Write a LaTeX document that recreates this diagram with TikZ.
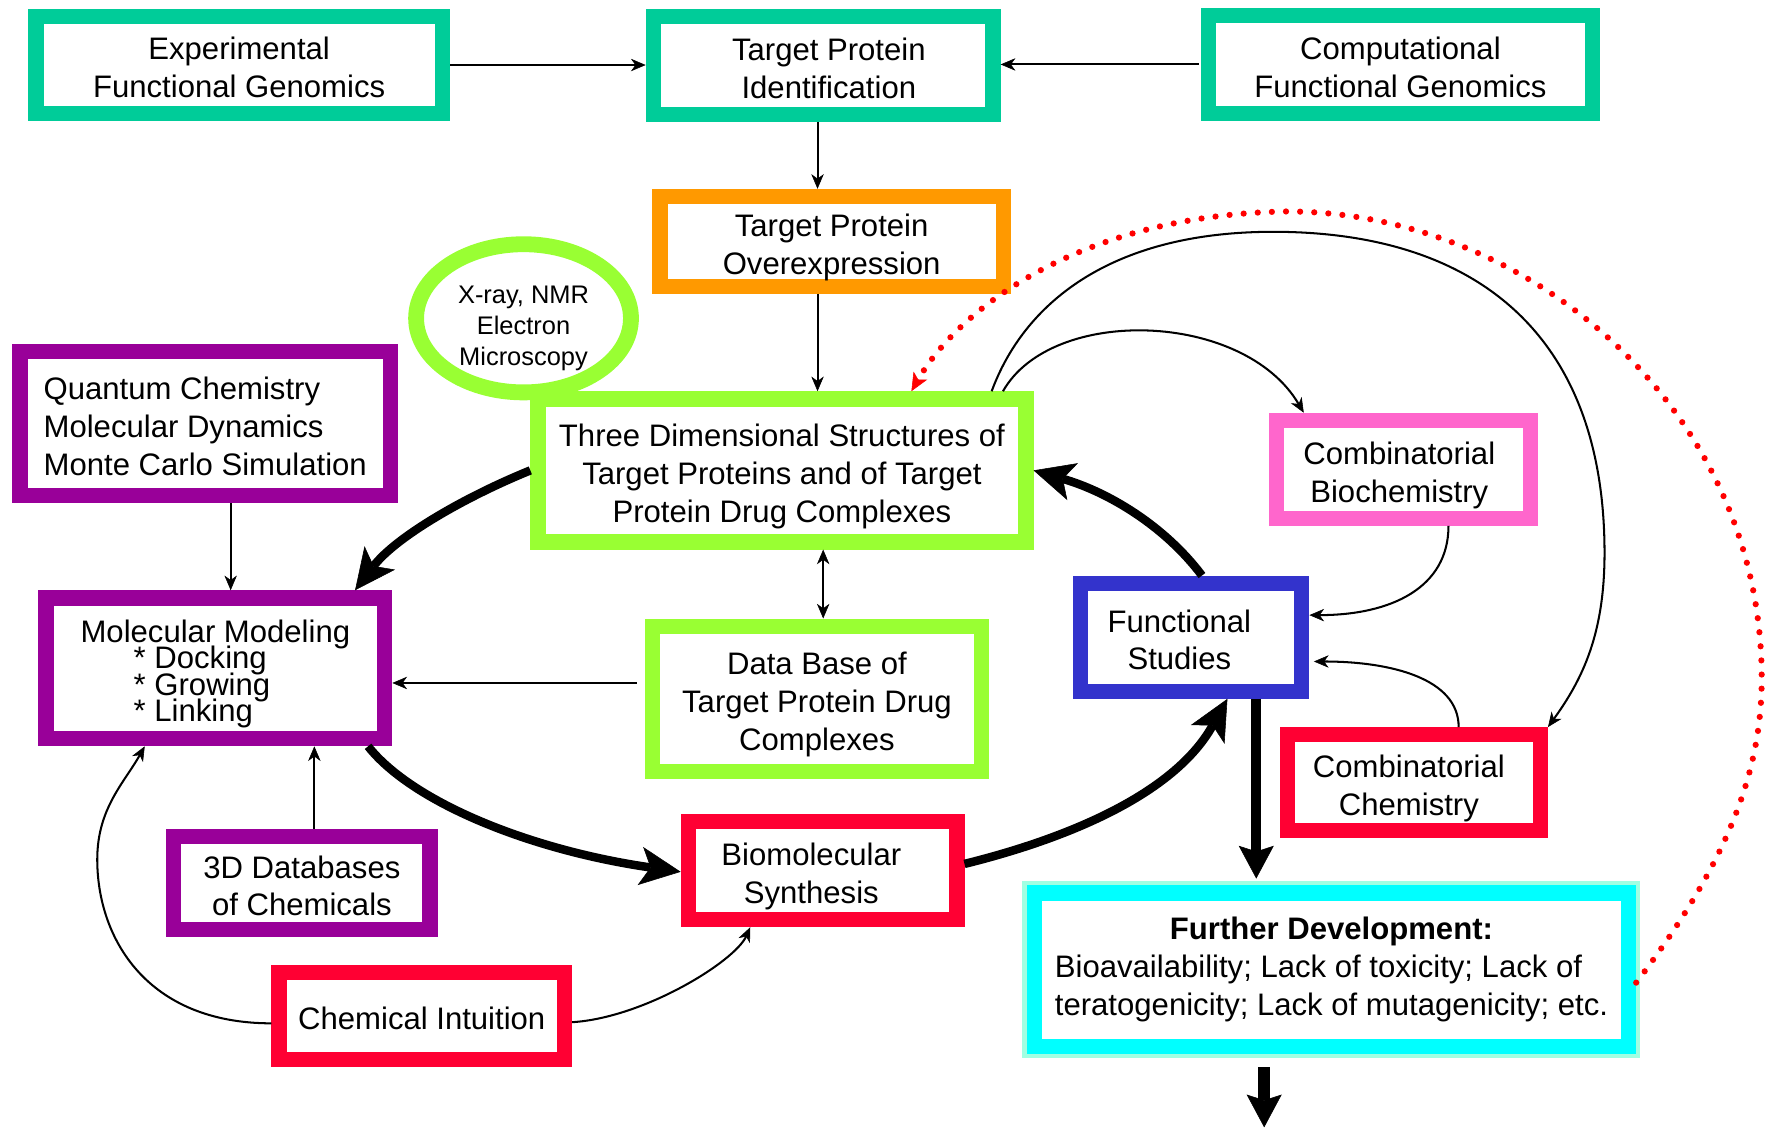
\documentclass[tikz,border=0pt]{standalone}
\usepackage{fontspec}
\setmainfont{Liberation Sans}
\usetikzlibrary{arrows.meta,shapes.geometric}
\definecolor{cteal}{RGB}{0,204,153}
\definecolor{corange}{RGB}{255,153,0}
\definecolor{clime}{RGB}{153,255,51}
\definecolor{cpurple}{RGB}{153,0,153}
\definecolor{cpink}{RGB}{255,102,204}
\definecolor{cblue}{RGB}{51,51,204}
\definecolor{cred}{RGB}{255,0,51}
\definecolor{ccyan}{RGB}{0,255,255}
\definecolor{cglow}{RGB}{160,255,226}
\definecolor{cdot}{RGB}{255,0,0}
\newcommand{\tsA}{\rule{0pt}{31pt}}
\newcommand{\tsB}{\rule[-6.5pt]{0pt}{0pt}}
\begin{document}
\begin{tikzpicture}[x=1pt,y=-1pt,
 box/.style={draw, rectangle, line width=13.5pt, fill=white, inner sep=0pt, outer sep=6.75pt, align=center, font=\fontsize{27.5}{33.5}\selectfont},
 thinarrow/.style={line width=1.8pt, >={Stealth[length=13pt,width=11pt,inset=4pt,line width=0.5pt]}, ->},
 thickarrow/.style={line width=7.5pt, >={Stealth[length=36pt,width=34pt,inset=9pt,line width=0.5pt]}, ->},
 straightthick/.style={line width=9pt, >={Stealth[length=29pt,width=31pt,inset=5pt,line width=0.5pt]}, ->},
 reddots/.style={draw=cdot, line width=5.5pt, line cap=round, dash pattern=on 0pt off 12.5pt, >={Stealth[length=16pt,width=14pt,inset=4pt,line width=0.5pt]}, ->},
]
\useasboundingbox (0,0) rectangle (1568,998);

% ---- boxes ----
\node[box, draw=cteal, minimum width=359.5pt, minimum height=85.5pt] (ExpFG) at (211.5,57.5) {\tsA Experimental\\Functional Genomics\tsB};
\node[box, draw=cteal, minimum width=300.5pt, minimum height=86.5pt] (TPI) at (728,58) {\tsA\hspace*{10pt}Target Protein\\\hspace*{10pt}Identification\tsB};
\node[box, draw=cteal, minimum width=339.5pt, minimum height=86.5pt] (CompFG) at (1238.5,57) {\tsA Computational\\Functional Genomics\tsB};
\node[box, draw=corange, minimum width=303.5pt, minimum height=79.5pt] (TPO) at (735.5,213.5) {\tsA Target Protein\\Overexpression\tsB};
\node[draw=clime, line width=14pt, ellipse, fill=white, minimum width=190pt, minimum height=131pt, inner sep=0pt, outer sep=7pt, align=center, font=\fontsize{22.5}{27.5}\selectfont] (XR) at (463,281.5) {\rule{0pt}{33pt}X-ray, NMR\\Electron\\Microscopy};
\node[box, draw=clime, minimum width=431.5pt, minimum height=126.5pt] (ThreeD) at (691.5,416) {\tsA Three Dimensional Structures of\\Target Proteins and of Target\\Protein Drug Complexes\tsB};
\node[box, draw=cpurple, align=left, minimum width=327.5pt, minimum height=127.5pt] (QC) at (181.5,374.5) {\tsA Quantum Chemistry\\Molecular Dynamics\\Monte Carlo Simulation\tsB};
\node[box, draw=cpurple, align=left, minimum width=299.5pt, minimum height=124.5pt] (MM) at (190.5,591) {\tsA Molecular Modeling\\[-10pt]\hspace*{47pt}* Docking\\[-10pt]\hspace*{47pt}* Growing\\[-10pt]\hspace*{47pt}* Linking\tsB};
\node[box, draw=clime, minimum width=291.5pt, minimum height=128.5pt] (DB) at (722.5,618) {\tsA Data Base of\\Target Protein Drug\\Complexes\tsB};
\node[box, draw=cpink, minimum width=224.5pt, minimum height=86.5pt] (CB) at (1241,415) {\tsA Combinatorial\hspace*{7pt}\\Biochemistry\hspace*{7pt}\tsB};
\node[box, draw=cblue, minimum width=195.5pt, minimum height=95.5pt] (FS) at (1053.5,563.5) {\tsA Functional\hspace*{21pt}\\Studies\hspace*{21pt}\tsB};
\node[box, draw=cred, minimum width=223.5pt, minimum height=84.5pt] (CC) at (1250.5,692) {\tsA Combinatorial\hspace*{9pt}\\Chemistry\hspace*{9pt}\tsB};
\node[box, draw=cred, minimum width=237.5pt, minimum height=86.5pt] (BS) at (727.5,770) {\tsA Biomolecular\hspace*{20pt}\\Synthesis\hspace*{20pt}\tsB};
\node[box, draw=cpurple, minimum width=226.5pt, minimum height=82.5pt] (DDB) at (267,781) {\tsA 3D Databases\\of Chemicals\tsB};
\node[box, draw=cred, minimum width=252.5pt, minimum height=77.5pt] (CI) at (373,898.5) {\tsA Chemical Intuition\tsB};
\node[box, draw=ccyan, preaction={draw=cglow, line width=21pt}, minimum width=525.5pt, minimum height=135.5pt] (FD) at (1177.5,857.5) {\begin{tabular}{@{}l@{}}\multicolumn{1}{@{}c@{}}{\bfseries Further Development:}\\Bioavailability; Lack of toxicity; Lack of\\teratogenicity; Lack of mutagenicity; etc.\end{tabular}};

% ---- thin straight connectors ----
\draw[thinarrow] (ExpFG.east) -- (ExpFG.east -| TPI.west);
\draw[thinarrow] ([xshift=-2pt]CompFG.west) -- (CompFG.west -| TPI.east);
\draw[thinarrow] ([xshift=-5pt]TPI.south) -- ([xshift=-5pt]TPI.south |- TPO.north);
\draw[thinarrow] ([xshift=-12.5pt]TPO.south) -- ([xshift=-12.5pt]TPO.south |- ThreeD.north);
\draw[thinarrow, <->] ([xshift=36.5pt]ThreeD.south) -- ([xshift=36.5pt]ThreeD.south |- DB.north);
\draw[thinarrow, shorten <=7pt] ([yshift=14pt]DB.west) -- ([yshift=14pt]DB.west -| MM.east);
\draw[thinarrow] ([xshift=22.5pt]QC.south) -- ([xshift=22.5pt]QC.south |- MM.north);
\draw[thinarrow] ([xshift=11pt]DDB.north) -- ([xshift=11pt]DDB.north |- MM.south);

% ---- thin curved connectors ----
\draw[thinarrow] ([yshift=-6.5pt]CI.west) .. controls (130,905) and (86,830) .. (86,760) .. controls (86,715) and (110,692) .. ([xshift=-62.5pt]MM.south);
\draw[thinarrow] ([yshift=-5.5pt]CI.east) .. controls (570,900) and (650,850) .. ([xshift=-64pt]BS.south);
\draw[thinarrow] ([xshift=185.5pt]ThreeD.north) .. controls (905,270) and (980,205) .. (1126,205) .. controls (1310,205) and (1419,300) .. (1419,489) .. controls (1419,560) and (1400,600) .. (CC.north east);
\draw[thinarrow] ([xshift=195.5pt]ThreeD.north) .. controls (930,270) and (1100,275) .. ([xshift=-88pt]CB.north);
\draw[thinarrow] ([xshift=40pt]CB.south) .. controls (1281,520) and (1230,544) .. ([yshift=19.5pt]FS.east);
\draw[thinarrow, shorten >=4pt] ([xshift=39.5pt]CC.north) .. controls (1290,600) and (1230,585) .. ([yshift=-21.5pt]FS.east);

% ---- thick cycle ----
\draw[thickarrow] (ThreeD.west) .. controls (410,440) and (350,475) .. ([xshift=-33pt]MM.north east);
\draw[thickarrow] ([xshift=-21.5pt]MM.south east) .. controls (365,710) and (470,752) .. ([yshift=-1pt]BS.west);
\draw[thickarrow] ([yshift=6pt]BS.east) .. controls (950,740) and (1040,700) .. ([xshift=32pt]FS.south);
\draw[thickarrow] ([xshift=9.5pt]FS.north) .. controls (1030,465) and (980,435) .. (ThreeD.east);

% ---- straight thick ----
\draw[straightthick, shorten >=6pt] ([xshift=57.5pt]FS.south) -- ([xshift=57.5pt]FS.south |- FD.north);
\coordinate (out) at (1118,997);
\draw[straightthick, line width=10.5pt, shorten <=12pt] (FD.south -| out) -- (out);

% ---- red dotted feedback ----
\draw[reddots] ([yshift=-11.5pt]FD.east) .. controls (1530,760) and (1558,680) .. (1558,600) .. controls (1558,360) and (1350,187) .. (1138,187) .. controls (960,190) and (850,270) .. ([xshift=114.5pt]ThreeD.north);
\end{tikzpicture}
\end{document}
